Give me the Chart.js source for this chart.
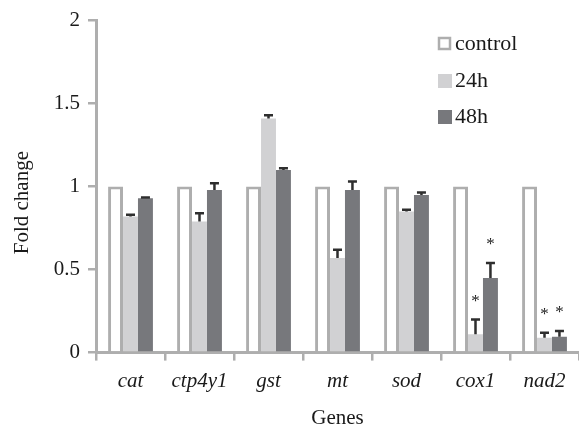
<!DOCTYPE html>
<html><head><meta charset="utf-8">
<script src="https://cdn.jsdelivr.net/npm/chart.js@4"></script>
<style>html,body{margin:0;padding:0;background:#fff;}#wrap{width:579px;height:431px;}</style>
</head><body><div id="wrap"><canvas id="c"></canvas></div>
<script>
const genes = ['cat','ctp4y1','gst','mt','sod','cox1','nad2'];
const seriesNames = ['control','24h','48h'];
const controlValues = [1,1,1,1,1,1,1];
const h24Values = [0.82,0.79,1.41,0.57,0.85,0.11,0.09];
const h24Errors = [0.01,0.05,0.02,0.05,0.01,0.09,0.03];
const h48Values = [0.93,0.98,1.10,0.98,0.95,0.45,0.095];
const h48Errors = [0.004,0.04,0.01,0.05,0.015,0.09,0.035];
const h24Sig = [false,false,false,false,false,true,true];
const h48Sig = [false,false,false,false,false,true,true];
const yTickValues = [0,0.5,1,1.5,2];
const yTitle = 'Fold change';
const xTitle = 'Genes';

const AXIS = '#aeaeae';
const C_LIGHT = '#d1d1d3';
const C_DARK = '#77787c';
const FONT = '"Liberation Serif", "Times New Roman", serif';

const errPlugin = {
  id: 'errbars',
  afterDatasetsDraw(chart) {
    const ctx = chart.ctx, ys = chart.scales.y;
    const sets = [[1, h24Errors, h24Sig], [2, h48Errors, h48Sig]];
    ctx.save();
    sets.forEach(([di, errs, sig]) => {
      const meta = chart.getDatasetMeta(di);
      const vals = chart.data.datasets[di].data;
      meta.data.forEach((el, j) => {
        const top = ys.getPixelForValue(vals[j] + errs[j]);
        ctx.strokeStyle = '#2e2e2e';
        ctx.lineWidth = 2.5;
        ctx.beginPath();
        ctx.moveTo(el.x, el.y);
        ctx.lineTo(el.x, top);
        ctx.moveTo(el.x - 4.5, top);
        ctx.lineTo(el.x + 4.5, top);
        ctx.stroke();
        if (sig[j]) {
          ctx.fillStyle = '#222';
          ctx.font = '17px ' + FONT;
          ctx.textAlign = 'center';
          ctx.textBaseline = 'middle';
          ctx.fillText('*', el.x, top - 18);
        }
      });
    });
    ctx.restore();
  }
};

const legendPlugin = {
  id: 'customLegend',
  afterDraw(chart) {
    const ctx = chart.ctx;
    const x = 438, ys = [43, 80, 116];
    ctx.save();
    chart.data.datasets.forEach((ds, i) => {
      const y = ys[i];
      if (i === 0) {
        ctx.fillStyle = '#fff';
        ctx.fillRect(x, y - 6, 13, 13);
        ctx.strokeStyle = AXIS; ctx.lineWidth = 2.5;
        ctx.strokeRect(x + 1, y - 5, 11, 11);
      } else {
        ctx.fillStyle = ds.backgroundColor;
        ctx.fillRect(x, y - 6, 14, 14);
      }
      ctx.fillStyle = '#1a1a1a';
      ctx.font = '22px ' + FONT;
      ctx.textAlign = 'left';
      ctx.textBaseline = 'middle';
      ctx.fillText(seriesNames[i], x + 17, y + 1);
    });
    // y-axis title, placed slightly below the plot centre as in the original
    const ca = chart.chartArea;
    ctx.translate(22, (ca.top + ca.bottom) / 2 + 16);
    ctx.rotate(-Math.PI / 2);
    ctx.fillStyle = '#1a1a1a';
    ctx.font = '21px ' + FONT;
    ctx.textAlign = 'center';
    ctx.textBaseline = 'middle';
    ctx.fillText(yTitle, 0, 0);
    ctx.restore();
  }
};

new Chart(document.getElementById('c'), {
  type: 'bar',
  data: {
    labels: genes,
    datasets: [
      { label: seriesNames[0], data: controlValues, backgroundColor: '#fff', borderColor: AXIS, borderWidth: 3, borderSkipped: 'bottom' },
      { label: seriesNames[1], data: h24Values, backgroundColor: C_LIGHT, borderWidth: 0 },
      { label: seriesNames[2], data: h48Values, backgroundColor: C_DARK, borderWidth: 0 }
    ]
  },
  options: {
    responsive: true, maintainAspectRatio: false, animation: false,
    devicePixelRatio: 1,
    layout: { padding: { top: 7, right: 0, bottom: 0, left: 10 } },
    datasets: { bar: { categoryPercentage: 0.65, barPercentage: 1 } },
    plugins: { legend: { display: false }, tooltip: { enabled: false } },
    scales: {
      x: {
        grid: { display: true, drawOnChartArea: false, drawTicks: true, tickLength: 8, color: AXIS, lineWidth: 2.5, offset: true },
        border: { color: AXIS, width: 3 },
        ticks: { color: '#1a1a1a', font: { family: FONT, size: 21, style: 'italic' }, padding: 8, maxRotation: 0 },
        title: { display: true, text: xTitle, color: '#1a1a1a', font: { family: FONT, size: 21 }, padding: { top: 4, bottom: 0 } }
      },
      y: {
        min: 0, max: 2,
        afterBuildTicks(s) { s.ticks = yTickValues.map(v => ({ value: v })); },
        afterFit(s) { s.width = 86; },
        grid: { display: true, drawOnChartArea: false, drawTicks: true, tickLength: 8, color: AXIS, lineWidth: 2.5 },
        border: { color: AXIS, width: 3 },
        ticks: { color: '#1a1a1a', font: { family: FONT, size: 21 }, padding: 8, callback: v => String(v) },
        title: { display: false }
      }
    }
  },
  plugins: [errPlugin, legendPlugin]
});
</script></body></html>
